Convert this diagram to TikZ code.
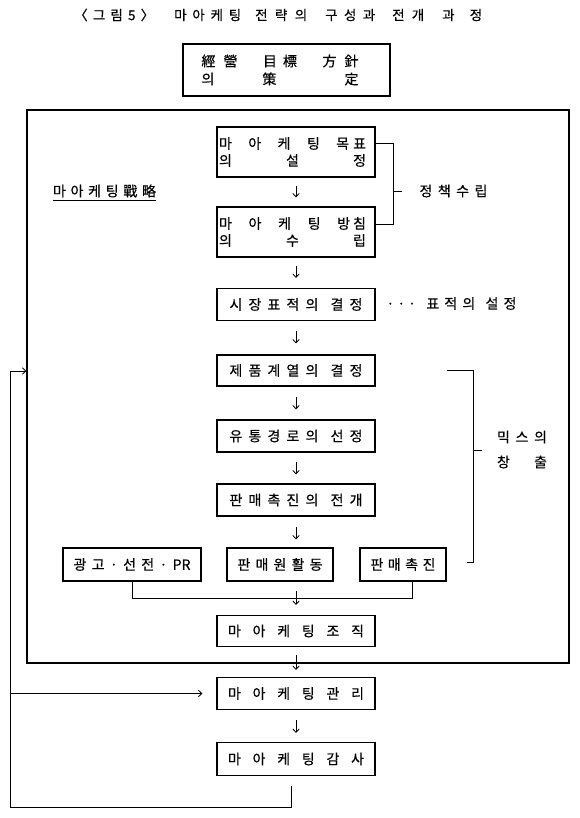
\documentclass[tikz,border=0pt]{standalone}
\usepackage{fontspec}
\setmainfont{Noto Sans CJK KR}[FakeBold=0.5]
\usetikzlibrary{arrows.meta}
\newcommand{\spr}[2]{\makebox[#1][s]{#2}}
\begin{document}
\begin{tikzpicture}[x=1pt,y=-1pt,
  font=\fontsize{14}{17}\selectfont,
  bx/.style={draw, line width=1.1pt, inner sep=0pt, align=center},
  ln/.style={line width=0.9pt},
  arr/.style={line width=0.8pt, -{Straight Barb[length=3.5pt,width=6.5pt]}},
  lab/.style={inner sep=0pt}
]
\useasboundingbox (0,0) rectangle (580,818);

% title
\node[lab, anchor=west, font=\fontsize{13.5}{15}\selectfont] (title) at (74,15) {\spr{80pt}{〈 그 림 5 〉}\hspace{20pt}\spr{67pt}{마 아 케 팅}\hspace{14pt}\spr{52pt}{전 략 의}\hspace{18pt}\spr{50pt}{구 성 과}\hspace{17pt}\spr{32pt}{전 개}\hspace{18pt}\spr{40pt}{과 정}};

% top box
\node[bx, minimum width=207pt, minimum height=52pt, font=\fontsize{14}{18}\selectfont] (top) at (286.5,70)
  {\makebox[170pt][l]{\spr{157pt}{經\kern8pt營 目\kern6pt標 方\kern8pt針}}\\ \makebox[170pt][l]{\spr{157pt}{의\hfill 策\hspace{20pt}\hfill 定}}};

% outer strategy frame
\node[draw, line width=1.1pt, inner sep=0pt, minimum width=542pt, minimum height=553pt] (outer) at (298,386.5) {};

\node[lab] (lbl) at (104.5,191) {\spr{103pt}{마 아 케 팅 戰 略}};
\draw[ln] ([yshift=-2.5pt]lbl.south west) -- ([yshift=-2.5pt]lbl.south east);

% main column
\node[bx, minimum width=158pt, minimum height=50pt] (goal) at (296,152)
  {\makebox[154pt][l]{\spr{147pt}{마 아 케 팅 목\kern4pt표}}\\ \makebox[154pt][l]{\spr{147pt}{의 설 정}}};
\node[bx, minimum width=158pt, minimum height=50pt] (policy) at (296,232)
  {\makebox[154pt][l]{\spr{147pt}{마 아 케 팅 방\kern3pt침}}\\ \makebox[154pt][l]{\spr{147pt}{의 수 립}}};
\node[bx, minimum width=158pt, minimum height=32pt] (target) at (296,304.5) {\spr{133pt}{시 장 표 적 의\ \ 결 정}};
\node[bx, minimum width=158pt, minimum height=31pt] (product) at (296,370.5) {\spr{133pt}{제 품 계 열 의\ \ 결 정}};
\node[bx, minimum width=158pt, minimum height=32pt] (channel) at (296,436) {\spr{133pt}{유 통 경 로 의\ \ 선 정}};
\node[bx, minimum width=158pt, minimum height=32pt] (promo) at (296,500) {\spr{133pt}{판 매 촉 진 의\ \ 전 개}};

\node[bx, minimum width=138pt, minimum height=33pt] (adv) at (132,564.5) {\spr{117pt}{광 고 · 선 전 · PR}};
\node[bx, minimum width=106pt, minimum height=33pt] (sales) at (280,564.5) {\spr{85pt}{판 매 원 활 동}};
\node[bx, minimum width=86pt, minimum height=33pt] (sprom) at (403,564.5) {\spr{65pt}{판 매 촉 진}};

\node[bx, minimum width=158pt, minimum height=31pt] (org) at (296,631) {\spr{136pt}{마 아 케 팅 조 직}};
\node[bx, minimum width=158pt, minimum height=32pt] (mgmt) at (296,693.5) {\spr{136pt}{마 아 케 팅 관 리}};
\node[bx, minimum width=158pt, minimum height=33pt] (audit) at (296,759) {\spr{136pt}{마 아 케 팅 감 사}};

% side labels
\node[lab] (plcy) at (453.5,191) {\spr{68pt}{정 책 수 립}};
\node[lab] (tgtlbl) at (451.5,303.5) {\spr{130pt}{·\kern3pt·\kern3pt·\ \ 표 적 의\ \ 설 정}};
\node[lab, align=center, font=\fontsize{14}{25}\selectfont] (mixlbl) at (522,449.5) {\spr{50pt}{믹 스 의}\\\spr{50pt}{창 출}};

% vertical arrows
\draw[arr, shorten <=8pt, shorten >=9pt] (goal) -- (policy);
\draw[arr, shorten <=8pt, shorten >=10pt] (policy) -- (target);
\draw[arr, shorten <=10pt, shorten >=11pt] (target) -- (product);
\draw[arr, shorten <=10pt, shorten >=10pt] (product) -- (channel);
\draw[arr, shorten <=9pt, shorten >=9pt] (channel) -- (promo);
\draw[arr, shorten <=10pt, shorten >=8pt] (promo) -- (promo |- sales.north);
\draw[arr, shorten <=9pt, shorten >=10pt] (promo |- adv.south) -- (org);
\draw[arr, shorten <=8pt, shorten >=7pt] (org) -- (mgmt);
\draw[arr, shorten <=10pt, shorten >=9pt] (mgmt) -- (audit);

% merge of the three promotion tools
\draw[ln] (adv.south) -- ++(0,16.5) -| ([xshift=9pt]sprom.south);

% policy bracket
\draw[ln] ([yshift=9pt]goal.east) -- ++(18,0) |- ([yshift=8pt]policy.east);
\coordinate (plTick) at (393,191);
\draw[ln] (plTick) -- ++(9,0);

% mix bracket
\coordinate (mxTop) at ([xshift=71pt]product.east);
\coordinate (mxBot) at ([xshift=20pt,yshift=2pt]sprom.east);
\draw[ln] (mxTop) -- ++(27,0) |- (mxBot);
\coordinate (mxTick) at (473,450);
\draw[ln] (mxTick) -- ++(9,0);

% feedback loop
\coordinate (fbL) at (10,807);
\coordinate (fbT) at (10,371);
\draw[arr] ([xshift=-5pt,yshift=-10pt]audit.south) |- (fbL) |- (outer.west |- fbT);
\draw[arr, shorten >=14pt] (fbL |- mgmt) -- (mgmt.west);
\end{tikzpicture}
\end{document}
